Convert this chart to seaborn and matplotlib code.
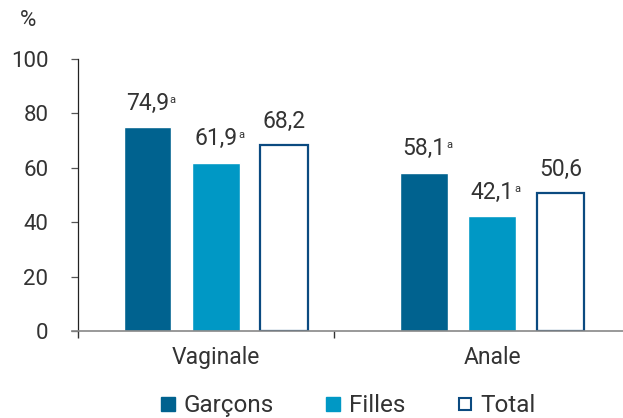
import seaborn as sns
import pandas as pd
import matplotlib.pyplot as plt
from matplotlib.lines import Line2D

# data
categories = ['Vaginale', 'Anale']
groups = ['Garçons', 'Filles', 'Total']
garcons = [74.9, 58.1]
filles = [61.9, 42.1]
total = [68.2, 50.6]
labels_garcons = ['74,9', '58,1']
labels_filles = ['61,9', '42,1']
labels_total = ['68,2', '50,6']
sup_garcons = ['a', 'a']
sup_filles = ['a', 'a']
sup_total = ['', '']

rows = []
for grp, vals in zip(groups, [garcons, filles, total]):
    for cat, v in zip(categories, vals):
        rows.append({'Type': cat, 'Groupe': grp, 'val': v})
df = pd.DataFrame(rows)

dark = '#00628f'
light = '#0098c5'
edge_total = '#0b4a80'
txt = '#333333'

sns.set_style('white')
plt.rcParams['font.family'] = ['Roboto', 'DejaVu Sans']

fig = plt.figure(figsize=(6.23, 4.18), dpi=100)
ax = fig.add_axes([0.1156, 0.208, 1 - 0.1156, 0.651])

pal = {'Garçons': dark, 'Filles': light, 'Total': 'white'}
sns.barplot(data=df, x='Type', y='val', hue='Groupe', palette=pal,
            width=0.74, gap=0.3, saturation=1, legend=False, ax=ax)

for p in ax.containers[2]:
    p.set_facecolor('white')
    p.set_edgecolor(edge_total)
    p.set_linewidth(1.6)

# value labels + superscript
for cont, labs, sups in zip(ax.containers, [labels_garcons, labels_filles, labels_total],
                            [sup_garcons, sup_filles, sup_total]):
    for p, lab, s in zip(cont, labs, sups):
        xc = p.get_x() + p.get_width() / 2
        yt = p.get_height()
        t = ax.annotate(lab, (xc, yt), xytext=(0, 9), textcoords='offset points',
                        ha='center', va='bottom', fontsize=16.5, color=txt)
        if s:
            ax.annotate(s, xy=(1, 1), xycoords=t, xytext=(0.5, -2), textcoords='offset points',
                        ha='left', va='top', fontsize=8, color=txt)

ax.set_ylim(0, 100)
ax.set_xlim(-0.52, 1.473)
ax.set_yticks([0, 20, 40, 60, 80, 100])
ax.set_xticks([0, 1])
ax.set_xticklabels(categories)
ax.set_xticks([-0.5, 0.427], minor=True)
ax.set_xlabel('')
ax.set_ylabel('')

ax.spines['top'].set_visible(False)
ax.spines['right'].set_visible(False)
ax.spines['left'].set_position(('data', -0.5))
ax.spines['left'].set_color('#222222')
ax.spines['left'].set_linewidth(0.9)
ax.spines['bottom'].set_color('#888888')
ax.spines['bottom'].set_linewidth(1.2)

ax.tick_params(axis='y', direction='out', length=5, width=0.9, color='#555555',
               pad=16, labelsize=16, labelcolor=txt, left=True)
ax.tick_params(axis='x', which='major', length=0, pad=11, labelsize=16.5, labelcolor=txt)
ax.tick_params(axis='x', which='minor', direction='out', length=5, width=1, color='#333333', bottom=True)

ax.text(-0.08, 1.143, '%', transform=ax.transAxes, fontsize=16, color=txt, ha='center', va='center')

# legend
handles = [
    Line2D([], [], ls='', marker='s', markersize=10, markerfacecolor=dark, markeredgecolor=dark),
    Line2D([], [], ls='', marker='s', markersize=10, markerfacecolor=light, markeredgecolor=light),
    Line2D([], [], ls='', marker='s', markersize=9, markerfacecolor='white', markeredgecolor=edge_total, markeredgewidth=1.5),
]
fig.legend(handles, groups, loc='lower center', bbox_to_anchor=(0.556, -0.05), ncol=3, frameon=False,
           fontsize=17.5, handletextpad=0.2, columnspacing=2.0, handlelength=0.9, labelcolor=txt)

plt.savefig('out.png', dpi=100)
